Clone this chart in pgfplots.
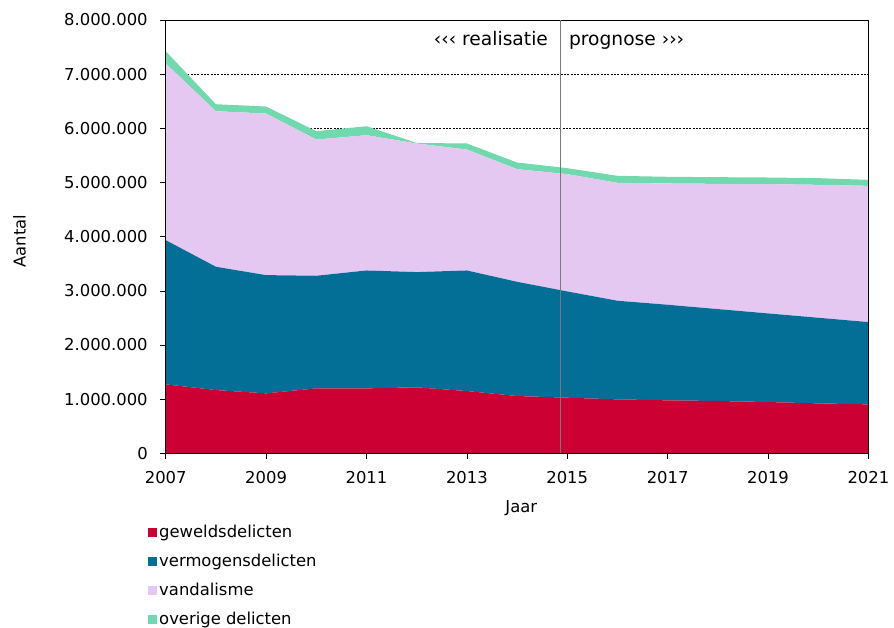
\documentclass[border=0pt]{standalone}
\usepackage{fontspec}
\setmainfont{DejaVu Sans}
\usepackage{pgfplots}
\usepackage{pgfplotstable}
\pgfplotsset{compat=1.18}
\definecolor{cgew}{RGB}{204,0,51}
\definecolor{cver}{RGB}{3,111,150}
\definecolor{cvan}{RGB}{229,200,242}
\definecolor{cove}{RGB}{112,217,173}
\definecolor{cline}{RGB}{120,120,120}

\pgfplotstableread{
jaar gew ver van ove
2007 1273000 2663000 3260000 227000
2008 1168000 2276000 2872000 129000
2009 1107000 2183000 2983000 129000
2010 1199000 2079000 2515000 154000
2011 1199000 2177000 2497000 166000
2012 1218000 2128000 2374000 10000
2013 1150000 2226000 2233000 111000
2014 1058000 2109000 2079000 123000
2015 1027000 1962000 2165000 110000
2016 996000 1821000 2177000 129000
2017 978000 1765000 2239000 123000
2018 966000 1697000 2312000 123000
2019 947000 1636000 2386000 123000
2020 922000 1581000 2454000 123000
2021 904000 1519000 2515000 111000
}\data

\begin{document}
\begin{tikzpicture}
\path[use as bounding box] (-124.3pt,-130.3pt) rectangle (546.2pt,340pt);
\begin{axis}[
  axis on top,
  at={(0,0)}, anchor=south west,
  scale only axis, width=527pt, height=325pt,
  font=\fontsize{12.3}{14.5}\selectfont,
  xmin=2007, xmax=2021, ymin=0, ymax=8000000,
  xtick={2007,2009,...,2021},
  ytick={0,1000000,...,8000000},
  extra x ticks={2014.87},
  extra x tick labels={},
  extra x tick style={grid=major, major grid style={cline, line width=0.8pt, solid}, major tick length=0pt},
  stack plots=y,
  axis line style={black, thin},
  tick align=outside, xtick pos=left, ytick pos=left,
  major tick length=4pt,
  tick style={black, thin},
  scaled y ticks=false,
  /pgf/number format/assume math mode=true,
  xticklabel style={yshift=-6pt, /pgf/number format/1000 sep={}},
  yticklabel style={xshift=-6pt, /pgf/number format/.cd, fixed, 1000 sep={.}},
  xlabel={Jaar},
  ylabel={Aantal},
  xlabel style={at={(axis description cs:0.506,-0.126)}, anchor=center},
  ylabel style={at={(axis description cs:-0.208,0.49)}, anchor=center},
  legend style={at={(axis description cs:-0.032,-0.153)}, anchor=north west,
    draw=none, fill=none, row sep=6.8pt, font=\fontsize{12.3}{14.5}\selectfont},
  legend cell align=left,
  legend image code/.code={\fill[#1] (0pt,-3.4pt) rectangle (6.8pt,3.4pt);},
]
\addplot[fill=cgew, draw=none] table[x=jaar,y=gew] {\data} \closedcycle;
\addlegendentry{geweldsdelicten}
\addplot[fill=cver, draw=none] table[x=jaar,y=ver] {\data} \closedcycle;
\addlegendentry{vermogensdelicten}
\addplot[fill=cvan, draw=none] table[x=jaar,y=van] {\data} \closedcycle;
\addlegendentry{vandalisme}
\addplot[fill=cove, draw=none] table[x=jaar,y=ove] {\data} \closedcycle;
\addlegendentry{overige delicten}
\draw[black, thin, dash pattern=on 1.5pt off 1pt] (axis cs:2007.43,7000000) -- (axis cs:2021,7000000);
\draw[black, thin, dash pattern=on 1.5pt off 1pt] (axis cs:2009.88,6000000) -- (axis cs:2010.58,6000000);
\draw[black, thin, dash pattern=on 1.5pt off 1pt] (axis cs:2011.12,6000000) -- (axis cs:2021,6000000);
\node[anchor=base east, inner sep=0pt, font=\fontsize{14}{16}\selectfont] at (axis cs:2014.62,7533000) {‹‹‹ realisatie};
\node[anchor=base west, inner sep=0pt, font=\fontsize{14}{16}\selectfont] at (axis cs:2015.03,7533000) {prognose ›››};
\end{axis}
\end{tikzpicture}
\end{document}
